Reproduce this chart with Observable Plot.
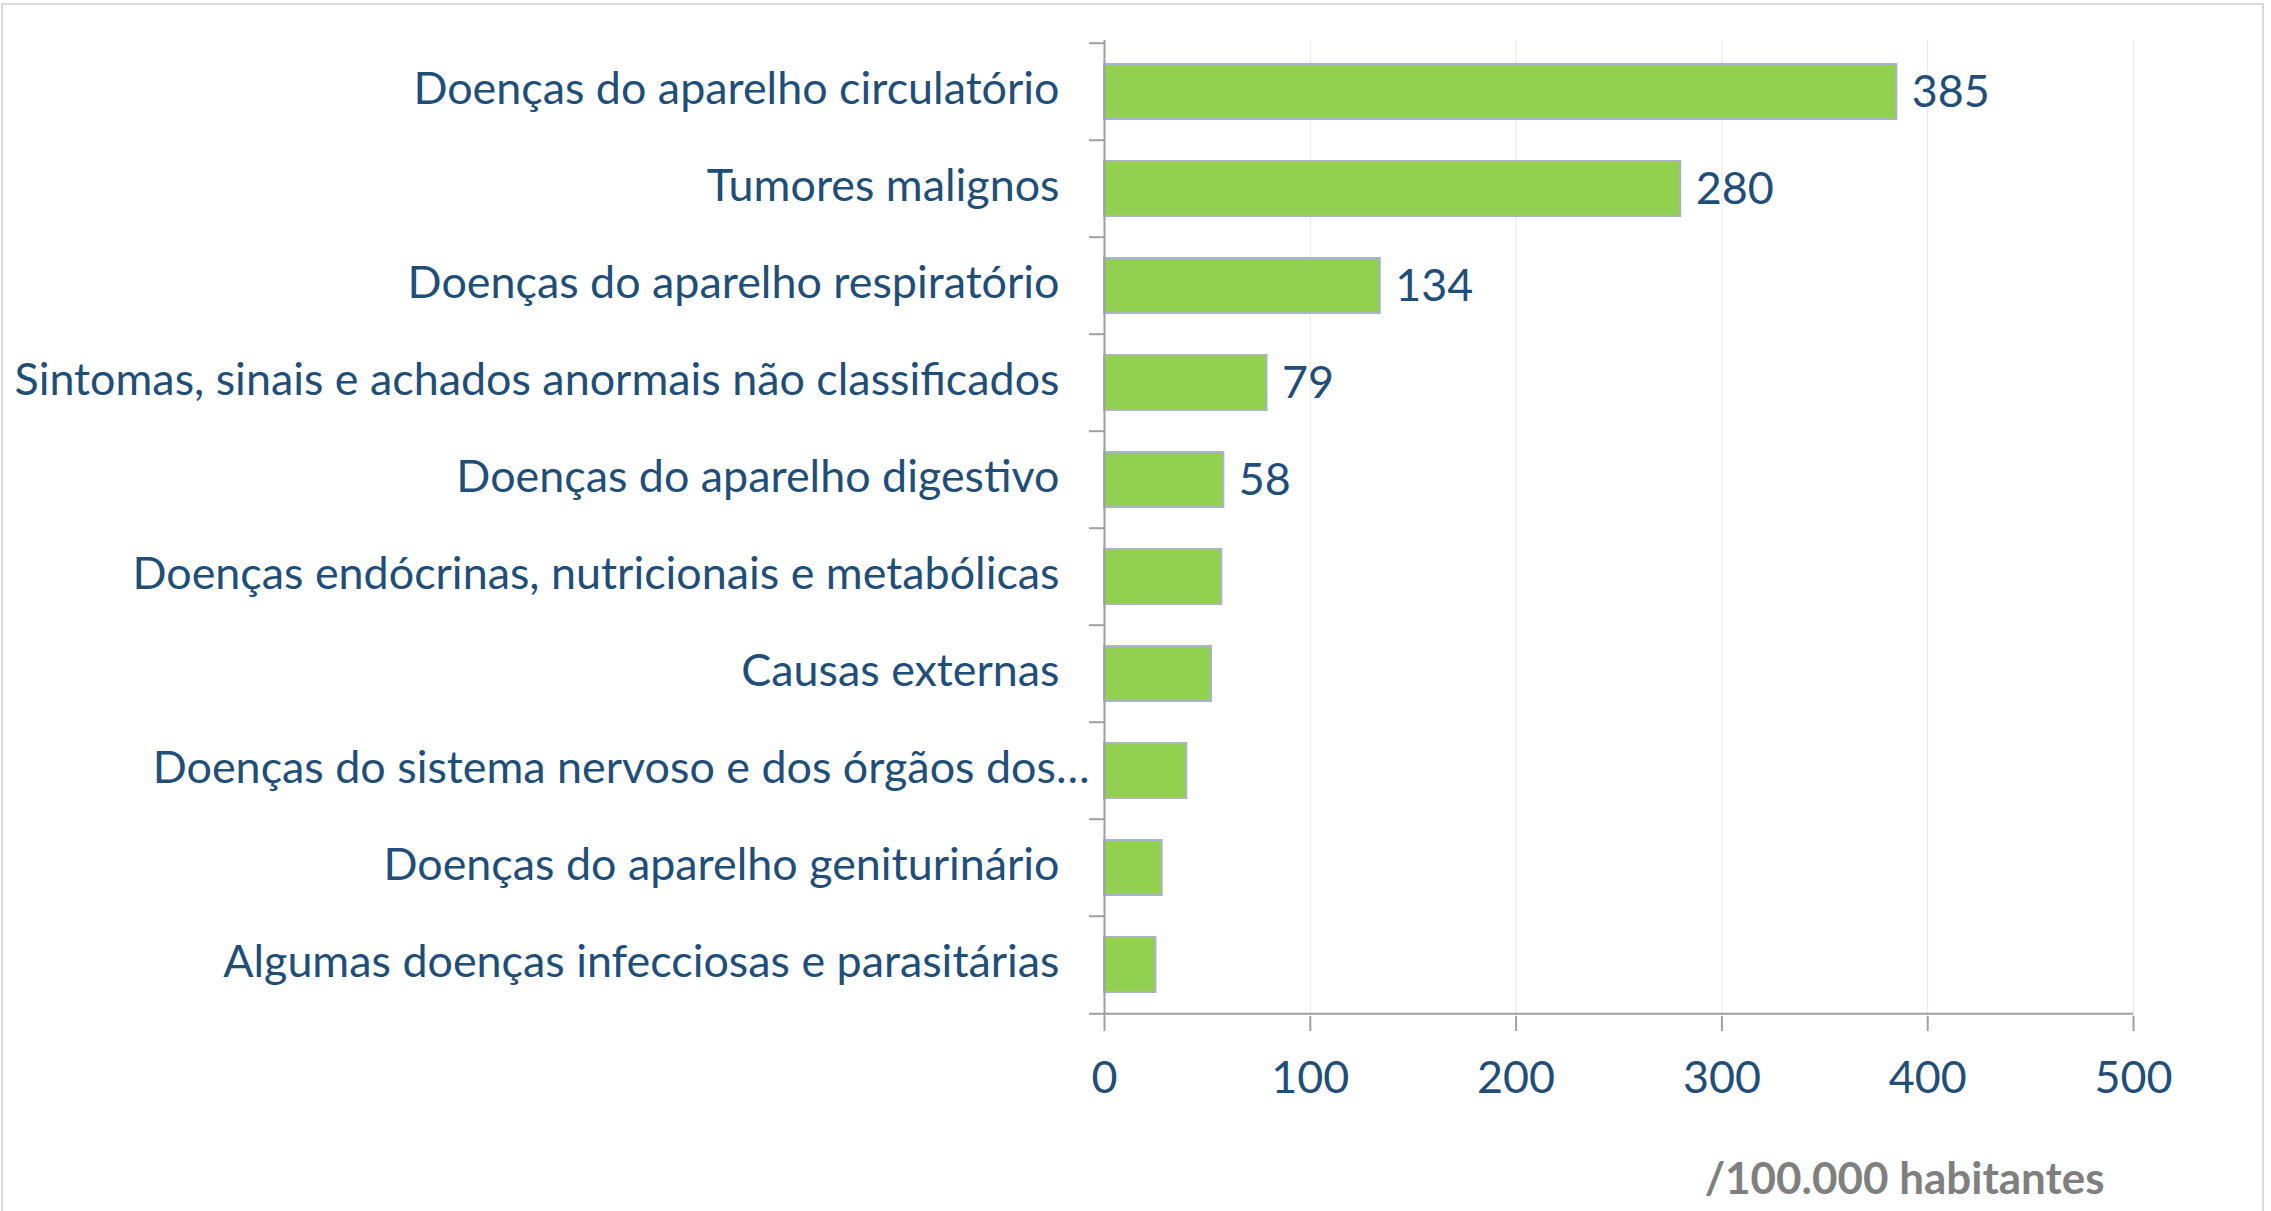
<!DOCTYPE html>
<html><head><meta charset="utf-8">
<script src="https://cdn.jsdelivr.net/npm/d3@7"></script>
<script src="https://cdn.jsdelivr.net/npm/@observablehq/plot@0.6"></script>
<style>
html,body{margin:0;padding:0;background:#fff;}
#wrap{position:relative;width:2271px;height:1211px;overflow:hidden;}
#border{position:absolute;left:1px;top:3px;width:2263px;height:1230px;border:2px solid #d9d9d9;box-sizing:border-box;pointer-events:none;}
</style></head><body>
<div id="wrap"><div id="chart"></div><div id="border"></div></div>
<script>
const categories = [
  "Doenças do aparelho circulatório",
  "Tumores malignos",
  "Doenças do aparelho respiratório",
  "Sintomas, sinais e achados anormais não classificados",
  "Doenças do aparelho digestivo",
  "Doenças endócrinas, nutricionais e metabólicas",
  "Causas externas",
  "Doenças do sistema nervoso e dos órgãos dos…",
  "Doenças do aparelho geniturinário",
  "Algumas doenças infecciosas e parasitárias"
];
const values = [385, 280, 134, 79, 58, 57, 52, 40, 28, 25];
const showValue = [true, true, true, true, true, false, false, false, false, false];
const truncated = [false, false, false, false, false, false, false, true, false, false];
const xTicks = [0, 100, 200, 300, 400, 500];
const unitLabel = "/100.000 habitantes";

const data = categories.map((c, i) => ({cat: c, value: values[i], show: showValue[i], trunc: truncated[i]}));

const W = 2271, H = 1211;
const mL = 1104, mR = 138, mT = 40, mB = 195;
const halfStep = (H - mT - mB) / categories.length / 2;

const FONT = "Lato";
function fit(text, target, weight) {
  const c = document.createElement("canvas").getContext("2d");
  c.font = `${weight} 100px "${FONT}"`;
  return 100 * target / c.measureText(text).width;
}
const fs = fit(categories[3], 1045, "normal");
const fsUnit = fit(unitLabel, 400, "bold");

const blue = "#1f4e79", gray = "#a0a0a0";

const chart = Plot.plot({
  width: W, height: H,
  marginLeft: mL, marginRight: mR, marginTop: mT, marginBottom: mB,
  style: {fontFamily: FONT, fontSize: fs + "px", background: "transparent"},
  x: {domain: [0, 500], axis: null},
  y: {domain: categories, paddingInner: 0.43, paddingOuter: 0.215, axis: null},
  marks: [
    Plot.gridX(xTicks.slice(1), {stroke: "#e6e6e6", strokeOpacity: 1}),
    Plot.barX(data, {x: "value", y: "cat", fill: "#92d050", stroke: "#aab4c8", strokeWidth: 2}),
    Plot.ruleX([0], {stroke: gray, strokeWidth: 2}),
    Plot.ruleY([categories[categories.length - 1]], {dy: halfStep, stroke: gray, strokeWidth: 2}),
    Plot.axisY(categories, {tickSize: 15, text: null, label: null, dy: -halfStep, stroke: gray, strokeWidth: 2}),
    Plot.axisY([categories[categories.length - 1]], {tickSize: 15, text: null, label: null, dy: halfStep, stroke: gray, strokeWidth: 2}),
    Plot.axisX(xTicks, {tickSize: 15, tickPadding: 30, stroke: gray, strokeWidth: 2, fill: blue, fontSize: fs, label: null}),
    Plot.text(data.filter(d => !d.trunc), {x: 0, y: "cat", text: "cat", textAnchor: "end", dx: -45, dy: -2, fill: blue, fontSize: fs}),
    Plot.text(data.filter(d => d.trunc), {x: 0, y: "cat", text: "cat", textAnchor: "end", dx: -15, dy: -2, fill: blue, fontSize: fs}),
    Plot.text(data.filter(d => d.show), {x: "value", y: "cat", text: d => String(d.value), textAnchor: "start", dx: 15, dy: 1, fill: blue, fontSize: fs}),
    Plot.text([unitLabel], {frameAnchor: "bottom-right", textAnchor: "end", dx: -29, dy: 177, fontWeight: "bold", fill: "#7f7f7f", fontSize: fsUnit})
  ]
});
document.getElementById("chart").appendChild(chart);
</script>
</body></html>
